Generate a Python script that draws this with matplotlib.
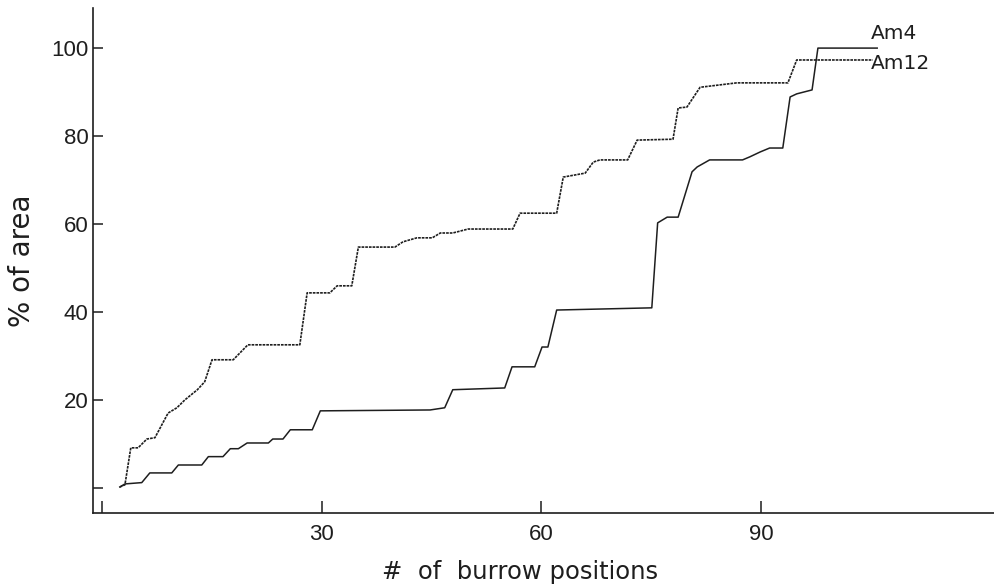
import matplotlib
matplotlib.use("Agg")
import matplotlib.pyplot as plt

# cumulative % of home range area vs number of burrow positions
am4_x = [2.4, 3.1, 5.4, 6.5, 9.5, 10.4, 13.6, 14.5, 16.5, 17.5, 18.6, 19.8, 22.7,
         23.3, 24.7, 25.7, 28.7, 29.8, 44.8, 46.8, 47.9, 55.0, 56.0, 59.1, 60.1,
         60.9, 62.1, 75.1, 75.9, 77.2, 78.7, 80.6, 81.3, 83.0, 87.5, 88.5, 89.9,
         91.2, 93.0, 94.0, 94.9, 97.0, 97.8, 105.9]
am4_y = [0.3, 1.0, 1.3, 3.5, 3.5, 5.3, 5.3, 7.2, 7.2, 9.0, 9.0, 10.3, 10.3,
         11.2, 11.2, 13.3, 13.3, 17.6, 17.8, 18.3, 22.4, 22.8, 27.6, 27.6, 32.1,
         32.1, 40.5, 41.0, 60.3, 61.6, 61.6, 71.9, 73.0, 74.6, 74.6, 75.3, 76.4,
         77.3, 77.3, 88.9, 89.6, 90.5, 100.0, 100.0]

am12_x = [2.4, 3.1, 3.9, 4.9, 6.1, 7.2, 9.0, 10.2, 11.3, 13.0, 14.0, 15.0, 17.9,
          19.9, 27.0, 28.0, 31.1, 32.1, 34.1, 35.0, 40.0, 41.1, 43.0, 45.1, 46.2,
          47.9, 50.0, 56.1, 57.1, 62.1, 63.0, 66.0, 67.1, 68.0, 71.8, 73.1, 78.0,
          78.7, 79.9, 81.7, 86.7, 93.7, 94.9, 105.3]
am12_y = [0.3, 0.8, 9.2, 9.2, 11.2, 11.5, 17.1, 18.3, 20.1, 22.4, 24.2, 29.2, 29.2,
          32.6, 32.6, 44.4, 44.4, 46.0, 46.0, 54.8, 54.8, 56.0, 56.9, 56.9, 58.0,
          58.0, 58.9, 58.9, 62.5, 62.5, 70.7, 71.6, 74.1, 74.6, 74.6, 79.1, 79.3,
          86.4, 86.6, 91.1, 92.1, 92.1, 97.3, 97.3]

x_ticks = [0, 30, 60, 90]
x_ticklabels = ["", "30", "60", "90"]
y_ticks = [0, 20, 40, 60, 80, 100]
y_ticklabels = ["", "20", "40", "60", "80", "100"]

fig = plt.figure(figsize=(9.95, 5.86), dpi=100)
ax = fig.add_axes([0.0932, 0.1246, 0.9068, 0.8617])

ink = "#1e1e1e"
ax.plot(am4_x, am4_y, color=ink, lw=1.1)
ax.plot(am12_x, am12_y, color=ink, lw=1.2, linestyle=(0, (1.6, 0.6)))

ax.set_xlim(-1.3, 122)
ax.set_ylim(-5.6, 109.1)

for s in ["top", "right"]:
    ax.spines[s].set_visible(False)
for s in ["left", "bottom"]:
    ax.spines[s].set_linewidth(1.2)
    ax.spines[s].set_color(ink)

ax.set_xticks(x_ticks)
ax.set_xticklabels(x_ticklabels)
ax.set_yticks(y_ticks)
ax.set_yticklabels(y_ticklabels)
ax.tick_params(axis="x", direction="in", length=9, width=1.1, color=ink, pad=8)
ax.tick_params(axis="y", direction="in", length=7.5, width=1.1, color=ink, pad=3)
narrow = ["Liberation Sans Narrow", "DejaVu Sans Condensed", "Liberation Sans"]
for lab in ax.get_xticklabels() + ax.get_yticklabels():
    lab.set_family(narrow)
    lab.set_fontsize(16)
    lab.set_color(ink)

ax.set_xlabel("#  of  burrow positions", fontsize=17.5, color=ink,
              family="DejaVu Sans", va="center")
ax.xaxis.set_label_coords(0.4736, -0.117)
ax.set_ylabel("% of area", fontsize=20, color=ink, family="DejaVu Sans",
              va="center")
ax.yaxis.set_label_coords(-0.078, 0.5)

ax.text(105.0, 103.4, "Am4", fontsize=14.5, color=ink, va="center", ha="left")
ax.text(105.0, 96.6, "Am12", fontsize=14.5, color=ink, va="center", ha="left")

fig.savefig("out.png", dpi=100)
